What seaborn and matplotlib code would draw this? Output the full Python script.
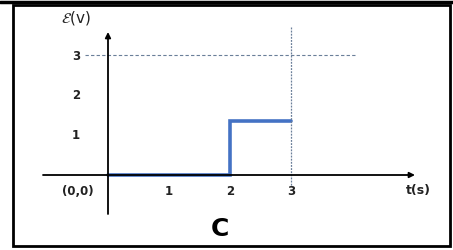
import numpy as np
import pandas as pd
import matplotlib
matplotlib.use("Agg")
import matplotlib.pyplot as plt
import seaborn as sns

# step signal: emf vs time
t_vals = [0, 2, 2, 3]
emf_vals = [0, 0, 1.35, 1.35]
x_ticks = [1, 2, 3]
y_ticks = [1, 2, 3]
ref_level = 3     # dashed horizontal line
ref_time = 3      # dashed vertical line

sns.set_style("white")
plt.rcParams['font.family'] = ['DejaVu Sans']

fig = plt.figure(figsize=(4.53, 2.51), dpi=100)
ax = fig.add_axes([0, 0, 1, 1])

# pixel mapping: origin at (108, 176), 61 px per second, 40 px per volt
sx, sy = 61.0, 40.0
ax.set_xlim(-108 / sx, (453 - 108) / sx)
ax.set_ylim(-(251 - 176) / sy, 176 / sy)
ax.axis('off')

df = pd.DataFrame({'t': t_vals, 'emf': emf_vals})
sns.lineplot(data=df, x='t', y='emf', sort=False, estimator=None,
             color='#4472C4', linewidth=2.6, ax=ax, solid_joinstyle='miter')

# dashed guide lines
ax.plot([(85 - 108) / sx, (357 - 108) / sx], [ref_level, ref_level],
        ls=(0, (3, 2)), color='#6a7f99', lw=0.8)
ax.plot([ref_time, ref_time], [(176 - 28) / sy, (176 - 187) / sy],
        ls=(0, (1.5, 1)), color='#6a7f99', lw=0.9)

# axes with arrows
ax.annotate('', xy=((415 - 108) / sx, 0), xytext=((43 - 108) / sx, 0),
            arrowprops=dict(arrowstyle='-|>', color='black', lw=1.3,
                            mutation_scale=8, shrinkA=0, shrinkB=0))
ax.annotate('', xy=(0, (176 - 33) / sy), xytext=(0, (176 - 215) / sy),
            arrowprops=dict(arrowstyle='-|>', color='black', lw=1.3,
                            mutation_scale=8, shrinkA=0, shrinkB=0))

# tick labels
for v in x_ticks:
    ax.text(v, -0.4, str(v), ha='center', va='center', fontsize=8.5,
            fontweight='bold', color='#222222')
for v in y_ticks:
    ax.text((76 - 108) / sx, v, str(v), ha='center', va='center', fontsize=8.5,
            fontweight='bold', color='#222222')

ax.text((78 - 108) / sx, -0.38, '(0,0)', ha='center', va='center',
        fontsize=8.5, fontweight='bold', color='#222222')
ax.text((418 - 108) / sx, -0.36, 't(s)', ha='center', va='center',
        fontsize=9, fontweight='bold', color='#222222')
ax.text((76 - 108) / sx, (176 - 18) / sy, r'$\mathcal{E}$(v)', ha='center',
        va='center', fontsize=11, color='#222222')
ax.text((220 - 108) / sx, (176 - 229) / sy, 'C', ha='center', va='center',
        fontsize=18, fontweight='bold', color='black')

# frame
fig.add_artist(plt.Line2D([0, 1], [1 - 3 / 251, 1 - 3 / 251], color='black',
                          lw=2.5, transform=fig.transFigure))
fig.add_artist(plt.Rectangle((13 / 453, 4 / 251), (450 - 13) / 453, (247 - 6) / 251,
                             fill=False, ec='black', lw=2,
                             transform=fig.transFigure))

fig.savefig('out.png', dpi=100)
